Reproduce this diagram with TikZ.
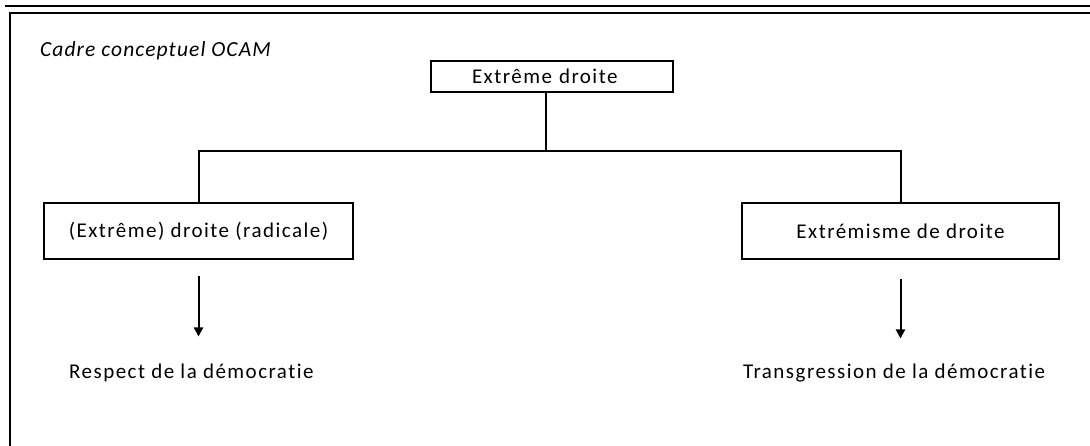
\documentclass[tikz,border=0pt]{standalone}
\usepackage{fontspec}
\setmainfont{Carlito}
\newfontfamily\labelfont[LetterSpace=7,Ligatures=NoCommon]{Carlito}
\newfontfamily\titlefont[LetterSpace=5,Ligatures=NoCommon,ItalicFont={Carlito Italic}]{Carlito}
\usetikzlibrary{arrows.meta}
\tikzset{
  frame/.style={line width=2.2pt},
  boxnode/.style={draw, line width=2pt, inner sep=0pt, font=\labelfont\fontsize{21}{25}\selectfont},
  plain/.style={inner sep=0pt, font=\labelfont\fontsize{21}{25}\selectfont},
  link/.style={line width=2pt},
  arrowline/.style={line width=2pt, -{Triangle[length=9pt,width=9pt]}}
}
\begin{document}
\begin{tikzpicture}[x=1pt,y=-1pt]
  \useasboundingbox (0,0) rectangle (1090,446);
  \fill[white] (0,0) rectangle (1090,446);
  % double rule on top and the open frame
  \draw[frame] (5,6) -- (1090,6);
  \draw[frame] (10,446) -- (10,13.3) -- (1090,13.3);
  % title
  \node[anchor=base west, inner sep=0pt, font=\titlefont\itshape\fontsize{21.5}{25}\selectfont]
    (title) at (40,57) {Cadre conceptuel OCAM};
  % boxes
  \node[boxnode, minimum height=30.7pt, text width=160pt, inner xsep=41pt, align=left]
    (top) at (552,76.3) {Extrême droite};
  \node[boxnode, minimum width=308.4pt, minimum height=56.6pt]
    (left) at (198.5,231) {(Extrême) droite (radicale)};
  \node[boxnode, minimum width=317.6pt, minimum height=56.6pt]
    (right) at (900.5,231) {Extrémisme de droite};
  % tree connectors
  \coordinate (j) at (546,151);
  \draw[link] (top.south -| j) -- (j);
  \draw[link] (left.north) |- (j) -| (right.north);
  % outcomes
  \coordinate (la) at (198.5,276);
  \coordinate (ra) at (900.5,279);
  \node[plain, anchor=base west] (resp) at (69,378) {Respect de la démocratie};
  \node[plain, anchor=base west] (trans) at (743,378) {Transgression de la démocratie};
  \draw[arrowline] (la) -- (la |- 0,336.5);
  \draw[arrowline] (ra) -- (ra |- 0,338.5);
\end{tikzpicture}
\end{document}
